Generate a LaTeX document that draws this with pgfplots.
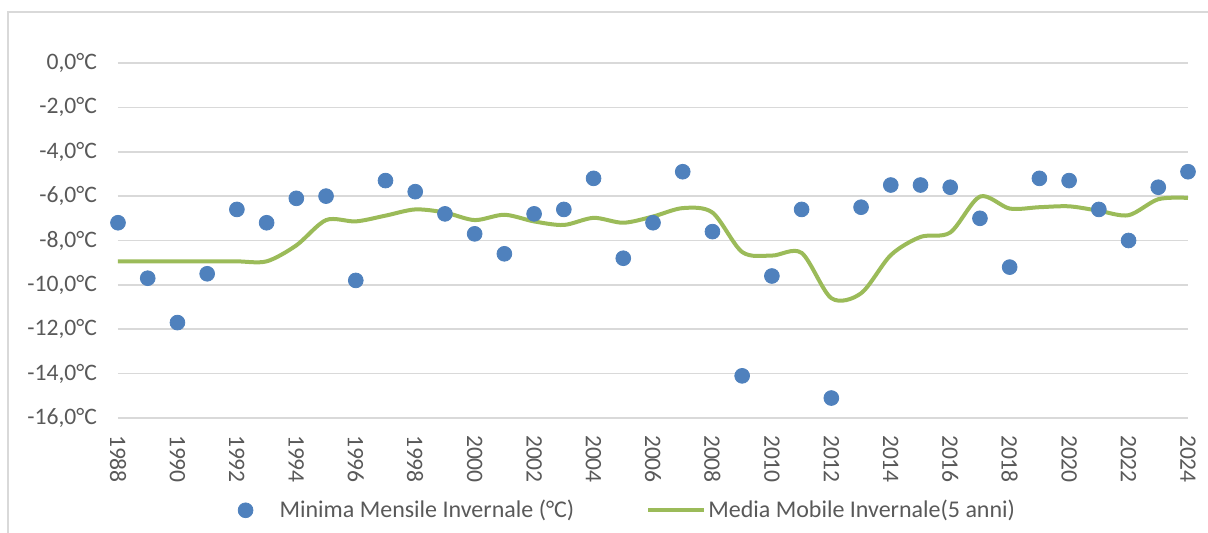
\documentclass[border=0pt]{standalone}
\usepackage{fontspec}
\setmainfont{Carlito}
\usepackage{pgfplots}
\pgfplotsset{compat=1.18}
\definecolor{cDot}{HTML}{4F81BD}
\definecolor{cAvg}{HTML}{9BBB59}
\definecolor{cGrid}{HTML}{D9D9D9}
\definecolor{cText}{HTML}{595959}
\pgfplotsset{
  dotleg/.style={legend image code/.code={\path[draw=none] (-4pt,0pt) -- (16pt,0pt); \fill[cDot] (0pt,0pt) circle (3.7pt);}},
  avgleg/.style={legend image code/.code={\draw[#1] (0pt,0pt) -- (28pt,0pt);}},
}

\begin{document}
\begin{tikzpicture}
\begin{axis}[
    at={(0,0)}, anchor=south west,
    scale only axis, width=535pt, height=177.5pt,
    xmin=1988, xmax=2024, ymin=-16, ymax=0,
    clip=false,
    axis line style={draw=none},
    major tick length=0pt,
    ymajorgrids, grid style={cGrid, line width=0.8pt},
    ytick={-16,-14,...,0},
    yticklabels={{-16,0°C},{-14,0°C},{-12,0°C},{-10,0°C},{-8,0°C},{-6,0°C},{-4,0°C},{-2,0°C},{0,0°C}},
    xtick={1988,1990,...,2024},
    tick label style={font=\fontsize{11.8}{13}\selectfont, text=cText},
    x tick label style={rotate=-90, anchor=west, /pgf/number format/1000 sep={},
                        /pgf/number format/assume math mode=true},
    xticklabel shift=5pt, yticklabel shift=7pt,
    legend columns=2,
    legend style={at={(0.476,-0.26)}, anchor=center, draw=none, fill=none,
                  font=\fontsize{12}{14}\selectfont, text=cText,
                  nodes={inner xsep=1pt},
                  /tikz/every even column/.append style={column sep=35pt}},
]
% minimum winter monthly temperature
\addplot[only marks, mark=*, mark size=3.7pt, color=cDot, dotleg] coordinates {
  (1988,-7.2) (1989,-9.7) (1990,-11.7) (1991,-9.5) (1992,-6.6) (1993,-7.2)
  (1994,-6.1) (1995,-6.0) (1996,-9.8) (1997,-5.3) (1998,-5.8) (1999,-6.8)
  (2000,-7.7) (2001,-8.6) (2002,-6.8) (2003,-6.6) (2004,-5.2) (2005,-8.8)
  (2006,-7.2) (2007,-4.9) (2008,-7.6) (2009,-14.1) (2010,-9.6) (2011,-6.6)
  (2012,-15.1) (2013,-6.5) (2014,-5.5) (2015,-5.5) (2016,-5.6) (2017,-7.0)
  (2018,-9.2) (2019,-5.2) (2020,-5.3) (2021,-6.6) (2022,-8.0) (2023,-5.6)
  (2024,-4.9)};
\addlegendentry{Minima Mensile Invernale (°C)}
% 5-year moving average
\addplot[smooth, tension=0.5, color=cAvg, line width=2pt, avgleg] coordinates {
  (1988,-8.94) (1989,-8.94) (1990,-8.94) (1991,-8.94) (1992,-8.94) (1993,-8.94)
  (1994,-8.22) (1995,-7.08) (1996,-7.14) (1997,-6.88) (1998,-6.60) (1999,-6.74)
  (2000,-7.08) (2001,-6.84) (2002,-7.14) (2003,-7.30) (2004,-6.98) (2005,-7.20)
  (2006,-6.92) (2007,-6.54) (2008,-6.74) (2009,-8.52) (2010,-8.68) (2011,-8.56)
  (2012,-10.60) (2013,-10.38) (2014,-8.66) (2015,-7.84) (2016,-7.64) (2017,-6.02)
  (2018,-6.56) (2019,-6.50) (2020,-6.46) (2021,-6.66) (2022,-6.86) (2023,-6.14)
  (2024,-6.08)};
\addlegendentry{Media Mobile Invernale(5 anni)}
\end{axis}
% chart area border
\draw[cGrid, line width=0.8pt] (-55pt,-70pt) -- (-55pt,203pt) -- (560pt,203pt);
\pgfresetboundingbox
\useasboundingbox (-59pt,-57.5pt) rectangle (545pt,209pt);
\end{tikzpicture}
\end{document}
